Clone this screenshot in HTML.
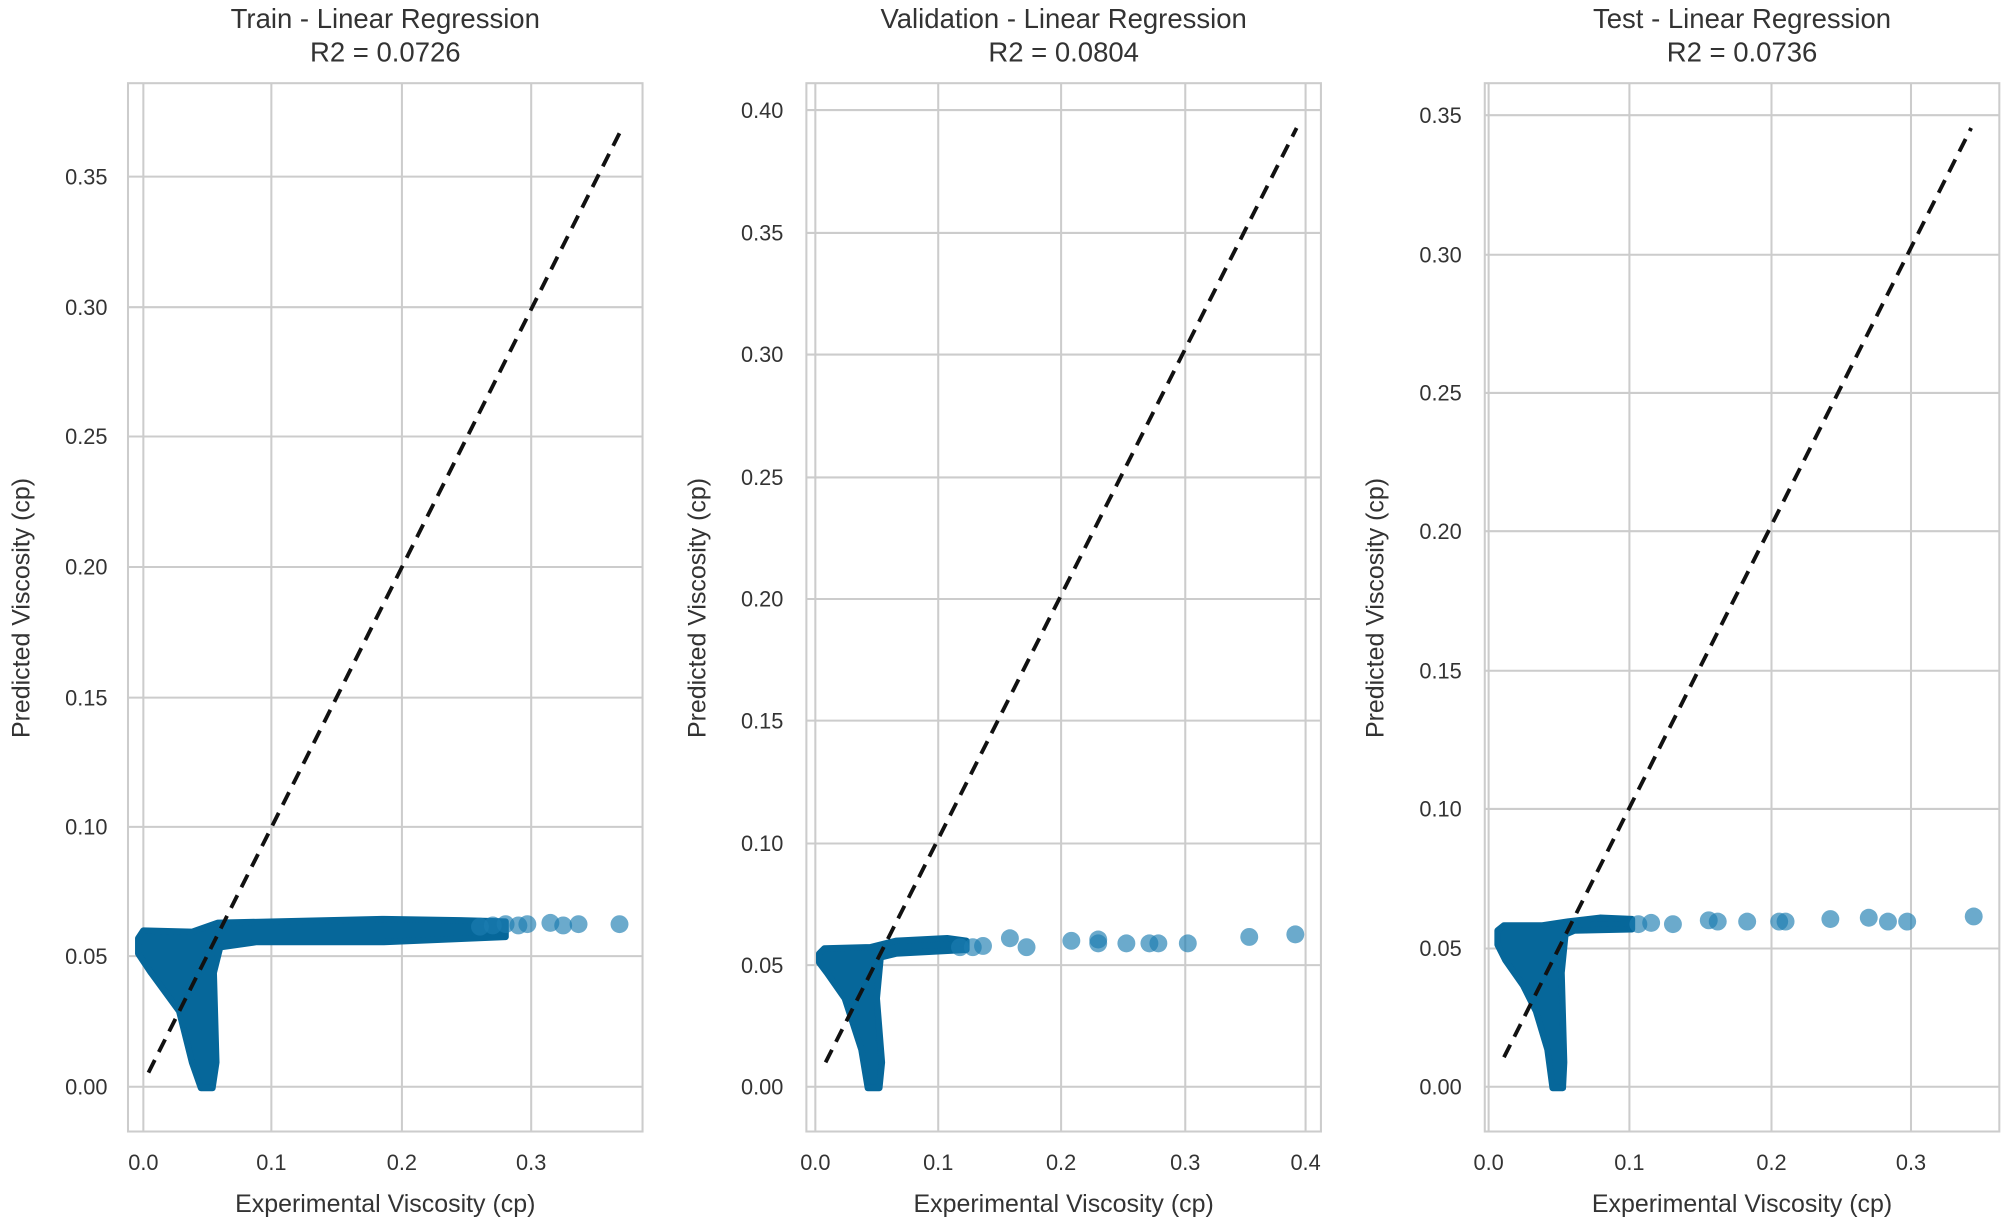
<!DOCTYPE html>
<html><head><meta charset="utf-8"><style>
html,body{margin:0;padding:0;background:#fff;}
svg{display:block;}
text{font-family:"Liberation Sans",sans-serif;fill:#333;}
.g{stroke:#cccccc;stroke-width:1.6;fill:none;}
.t{font-size:17px;}
.l{font-size:19.5px;}
.h{font-size:21.5px;}
.b{fill:#06679a;stroke:#06679a;stroke-width:5;stroke-linejoin:round;}
.c{fill:#1b7db0;fill-opacity:0.65;}
.d{stroke:#111;stroke-width:3;stroke-dasharray:11,7;fill:none;}
</style></head><body>
<svg width="2007" height="1227" viewBox="0 0 1568 958.6" preserveAspectRatio="none" xmlns="http://www.w3.org/2000/svg">
<rect width="1568" height="959" fill="#fff"/>

<!-- Panel 1 -->
<g>
<rect x="100" y="65" width="402" height="819" class="g"/>
<path class="g" d="M112 65V884M212 65V884M314 65V884M415 65V884M100 849H502M100 747H502M100 646H502M100 545H502M100 443H502M100 341H502M100 240H502M100 138H502"/>
<g class="t" text-anchor="end">
<text x="84" y="855">0.00</text><text x="84" y="753">0.05</text><text x="84" y="652">0.10</text><text x="84" y="551">0.15</text><text x="84" y="449">0.20</text><text x="84" y="347">0.25</text><text x="84" y="246">0.30</text><text x="84" y="144">0.35</text>
</g>
<g class="t" text-anchor="middle">
<text x="112" y="914">0.0</text><text x="212" y="914">0.1</text><text x="314" y="914">0.2</text><text x="415" y="914">0.3</text>
</g>
<polygon class="b" points="108,733 112,727 150,728 170,721 300,718 360,719 395,720 395,732 300,736 200,736 172,740 167,760 169,830 166,850 157,850 150,830 140,790 118,760 108,745"/>
<g class="c"><circle cx="375" cy="724" r="7"/><circle cx="385" cy="723" r="7"/><circle cx="395" cy="722" r="7"/><circle cx="405" cy="723" r="7"/><circle cx="412" cy="722" r="7"/><circle cx="430" cy="721" r="7"/><circle cx="440" cy="723" r="7"/><circle cx="452" cy="722" r="7"/><circle cx="484" cy="722" r="7"/></g>
<line class="d" x1="116" y1="838" x2="486" y2="100"/>
<text class="h" x="301" y="22" text-anchor="middle">Train - Linear Regression</text>
<text class="h" x="301" y="48" text-anchor="middle">R2 = 0.0726</text>
<text class="l" x="301" y="947" text-anchor="middle">Experimental Viscosity (cp)</text>
<text class="l" transform="translate(23,475) rotate(-90)" text-anchor="middle">Predicted Viscosity (cp)</text>
</g>

<!-- Panel 2 -->
<g>
<rect x="630" y="65" width="402" height="819" class="g"/>
<path class="g" d="M637 65V884M733 65V884M829 65V884M926 65V884M1020 65V884M630 849H1032M630 754H1032M630 659H1032M630 563H1032M630 468H1032M630 373H1032M630 277H1032M630 182H1032M630 86H1032"/>
<g class="t" text-anchor="end">
<text x="612" y="855">0.00</text><text x="612" y="760">0.05</text><text x="612" y="665">0.10</text><text x="612" y="569">0.15</text><text x="612" y="474">0.20</text><text x="612" y="379">0.25</text><text x="612" y="283">0.30</text><text x="612" y="188">0.35</text><text x="612" y="92">0.40</text>
</g>
<g class="t" text-anchor="middle">
<text x="637" y="914">0.0</text><text x="733" y="914">0.1</text><text x="829" y="914">0.2</text><text x="926" y="914">0.3</text><text x="1020" y="914">0.4</text>
</g>
<polygon class="b" points="640,745 644,741 680,740 700,735 740,733 755,735 755,742 700,745 688,748 685,780 689,830 687,850 678,850 673,820 660,780 646,760 640,752"/>
<g class="c"><circle cx="750" cy="740" r="7"/><circle cx="760" cy="740" r="7"/><circle cx="768" cy="739" r="7"/><circle cx="789" cy="733" r="7"/><circle cx="802" cy="740" r="7"/><circle cx="837" cy="735" r="7"/><circle cx="858" cy="734" r="7"/><circle cx="858" cy="737" r="7"/><circle cx="880" cy="737" r="7"/><circle cx="898" cy="737" r="7"/><circle cx="905" cy="737" r="7"/><circle cx="928" cy="737" r="7"/><circle cx="976" cy="732" r="7"/><circle cx="1012" cy="730" r="7"/></g>
<line class="d" x1="645" y1="830" x2="1013" y2="100"/>
<text class="h" x="831" y="22" text-anchor="middle">Validation - Linear Regression</text>
<text class="h" x="831" y="48" text-anchor="middle">R2 = 0.0804</text>
<text class="l" x="831" y="947" text-anchor="middle">Experimental Viscosity (cp)</text>
<text class="l" transform="translate(551,475) rotate(-90)" text-anchor="middle">Predicted Viscosity (cp)</text>
</g>

<!-- Panel 3 -->
<g>
<rect x="1160" y="65" width="402" height="819" class="g"/>
<path class="g" d="M1163 65V884M1273 65V884M1384 65V884M1493 65V884M1160 849H1562M1160 741H1562M1160 632H1562M1160 524H1562M1160 415H1562M1160 307H1562M1160 199H1562M1160 90H1562"/>
<g class="t" text-anchor="end">
<text x="1142" y="855">0.00</text><text x="1142" y="747">0.05</text><text x="1142" y="638">0.10</text><text x="1142" y="530">0.15</text><text x="1142" y="421">0.20</text><text x="1142" y="313">0.25</text><text x="1142" y="205">0.30</text><text x="1142" y="96">0.35</text>
</g>
<g class="t" text-anchor="middle">
<text x="1163" y="914">0.0</text><text x="1273" y="914">0.1</text><text x="1384" y="914">0.2</text><text x="1493" y="914">0.3</text>
</g>
<polygon class="b" points="1170,727 1175,723 1205,723 1225,720 1250,717 1275,718 1275,726 1230,727 1223,730 1220,760 1222,830 1221,850 1213,850 1209,820 1200,790 1190,770 1176,750 1170,738"/>
<g class="c"><circle cx="1280" cy="722" r="7"/><circle cx="1290" cy="721" r="7"/><circle cx="1307" cy="722" r="7"/><circle cx="1335" cy="719" r="7"/><circle cx="1342" cy="720" r="7"/><circle cx="1365" cy="720" r="7"/><circle cx="1390" cy="720" r="7"/><circle cx="1395" cy="720" r="7"/><circle cx="1430" cy="718" r="7"/><circle cx="1460" cy="717" r="7"/><circle cx="1475" cy="720" r="7"/><circle cx="1490" cy="720" r="7"/><circle cx="1542" cy="716" r="7"/></g>
<line class="d" x1="1175" y1="826" x2="1540" y2="100"/>
<text class="h" x="1361" y="22" text-anchor="middle">Test - Linear Regression</text>
<text class="h" x="1361" y="48" text-anchor="middle">R2 = 0.0736</text>
<text class="l" x="1361" y="947" text-anchor="middle">Experimental Viscosity (cp)</text>
<text class="l" transform="translate(1081,475) rotate(-90)" text-anchor="middle">Predicted Viscosity (cp)</text>
</g>
</svg>
</body></html>
